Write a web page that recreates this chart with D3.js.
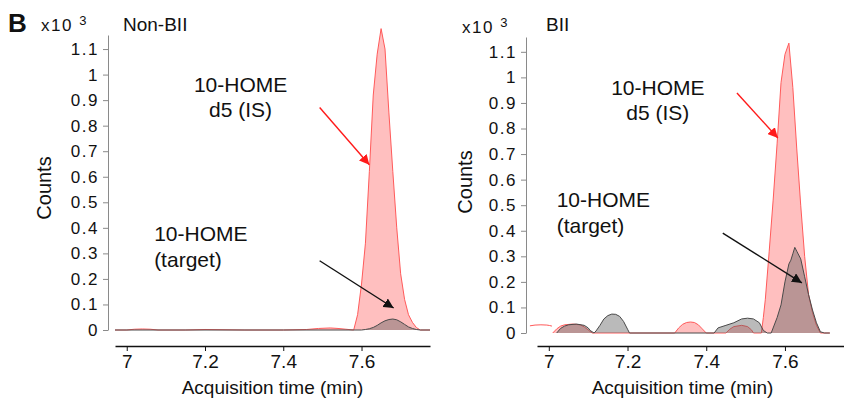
<!DOCTYPE html>
<html>
<head>
<meta charset="utf-8">
<script src="https://cdn.jsdelivr.net/npm/d3@7"></script>
<style>
  body { margin: 0; background: #fff; }
  text { font-family: "Liberation Sans", Arial, sans-serif; fill: #111; }
</style>
</head>
<body>
<script>
// tick labels shared by both panels
const yTicks = [0, 0.1, 0.2, 0.3, 0.4, 0.5, 0.6, 0.7, 0.8, 0.9, 1, 1.1];
const xTicks = [7, 7.2, 7.4, 7.6];

// Non-BII, counts x10^3
const nonBiiIsTime = [6.97, 7.0, 7.02, 7.04, 7.06, 7.08, 7.15, 7.2, 7.3, 7.4, 7.46, 7.49, 7.52, 7.54, 7.56, 7.58, 7.59, 7.6, 7.61, 7.62, 7.63, 7.64, 7.65, 7.66, 7.67, 7.68, 7.69, 7.7, 7.71, 7.72, 7.73, 7.74, 7.75, 7.775];
const nonBiiIsCounts = [0, 0, 0.003, 0.004, 0.003, 0, 0, 0.002, 0, 0, 0.002, 0.006, 0.008, 0.006, 0.003, 0, 0.06, 0.18, 0.34, 0.62, 0.92, 1.08, 1.18, 1.1, 0.85, 0.62, 0.4, 0.22, 0.12, 0.06, 0.03, 0.01, 0, 0];
const nonBiiTargetTime = [6.97, 7.2, 7.4, 7.6, 7.61, 7.62, 7.63, 7.64, 7.65, 7.66, 7.67, 7.68, 7.69, 7.7, 7.71, 7.72, 7.73, 7.74, 7.75, 7.775];
const nonBiiTargetCounts = [0, 0, 0, 0, 0.002, 0.005, 0.01, 0.018, 0.028, 0.036, 0.041, 0.043, 0.04, 0.032, 0.022, 0.012, 0.006, 0.002, 0, 0];

// BII, counts x10^3
const biiIsTime = [7.01, 7.02, 7.03, 7.04, 7.06, 7.08, 7.09, 7.1, 7.11, 7.32, 7.33, 7.34, 7.35, 7.36, 7.37, 7.38, 7.39, 7.4, 7.45, 7.46, 7.47, 7.49, 7.505, 7.515, 7.52, 7.54, 7.545, 7.55, 7.56, 7.57, 7.58, 7.59, 7.6, 7.61, 7.62, 7.63, 7.64, 7.65, 7.66, 7.67, 7.68, 7.69, 7.714];
const biiIsCounts = [0, 0.016, 0.027, 0.032, 0.035, 0.032, 0.024, 0.012, 0, 0, 0.02, 0.034, 0.041, 0.043, 0.041, 0.032, 0.016, 0, 0, 0.015, 0.025, 0.03, 0.025, 0.012, 0, 0, 0.06, 0.13, 0.32, 0.52, 0.74, 0.98, 1.09, 1.134, 0.96, 0.72, 0.5, 0.3, 0.15, 0.08, 0.03, 0, 0];
const biiIsStubTime = [6.952, 6.965, 6.98, 6.995, 7.008];
const biiIsStubCounts = [0.028, 0.031, 0.032, 0.031, 0.027];
const biiTargetTime = [7.02, 7.03, 7.04, 7.05, 7.07, 7.09, 7.1, 7.105, 7.115, 7.12, 7.13, 7.14, 7.15, 7.16, 7.17, 7.18, 7.19, 7.2, 7.205, 7.42, 7.43, 7.45, 7.47, 7.49, 7.505, 7.52, 7.535, 7.545, 7.555, 7.565, 7.58, 7.59, 7.6, 7.61, 7.615, 7.62, 7.625, 7.63, 7.64, 7.65, 7.66, 7.67, 7.68, 7.69, 7.7, 7.714];
const biiTargetCounts = [0, 0.018, 0.027, 0.032, 0.035, 0.03, 0.02, 0.01, 0, 0.008, 0.03, 0.055, 0.068, 0.074, 0.073, 0.065, 0.045, 0.015, 0, 0, 0.02, 0.03, 0.04, 0.055, 0.058, 0.055, 0.04, 0.01, 0, 0, 0.06, 0.11, 0.2, 0.27, 0.285, 0.31, 0.335, 0.32, 0.29, 0.22, 0.15, 0.09, 0.04, 0.005, 0, 0];

const svg = d3.select("body").append("svg")
  .attr("width", 844)
  .attr("height", 399);

svg.append("text")
  .attr("x", 8).attr("y", 32)
  .style("font-size", "26px").style("font-weight", "bold")
  .text("B");

function zip(ts, vs) {
  return ts.map((t, i) => ({ t: t, v: vs[i] }));
}

function drawPanel(p) {
  const x = d3.scaleLinear().domain(p.xDomain).range(p.xRange);
  const y = d3.scaleLinear().domain(p.yDomain).range(p.yRange);
  const g = svg.append("g");

  const area = d3.area()
    .x(d => x(d.t)).y0(y(0)).y1(d => y(d.v));
  const line = d3.line()
    .x(d => x(d.t)).y(d => y(d.v));

  // internal standard (red)
  const isData = zip(p.isTime, p.isCounts);
  g.append("path").datum(isData)
    .attr("d", area)
    .attr("fill", "rgba(255,0,0,0.25)");
  g.append("path").datum(isData)
    .attr("d", line)
    .attr("fill", "none").attr("stroke", "#ff5a5a").attr("stroke-width", 1);
  if (p.stubTime) {
    g.append("path").datum(zip(p.stubTime, p.stubCounts))
      .attr("d", line.curve(d3.curveMonotoneX))
      .attr("fill", "none").attr("stroke", "#ff5a5a").attr("stroke-width", 1);
    line.curve(d3.curveLinear);
  }

  // target (grey)
  const tgData = zip(p.tgTime, p.tgCounts);
  g.append("path").datum(tgData)
    .attr("d", area)
    .attr("fill", "rgba(90,90,90,0.42)");
  g.append("path").datum(tgData)
    .attr("d", line)
    .attr("fill", "none").attr("stroke", "#4a4a4a").attr("stroke-width", 1);

  // y axis
  const yAxis = g.append("g")
    .attr("transform", `translate(${p.yAxisX},0)`)
    .call(d3.axisLeft(y).tickValues(yTicks).tickSize(5).tickSizeOuter(0).tickPadding(4).tickFormat(d => String(d)));
  yAxis.select(".domain").attr("stroke", "#8a8a8a");
  yAxis.selectAll(".tick line").attr("stroke", "#8a8a8a");
  yAxis.selectAll(".tick text")
    .style("font-size", "17px").style("letter-spacing", "1.5px")
    .style("font-family", "Liberation Sans, Arial, sans-serif").attr("fill", "#111");

  // x axis
  const xAxis = g.append("g")
    .attr("transform", `translate(0,${p.xAxisY})`)
    .call(d3.axisBottom(x).tickValues(xTicks).tickSize(5).tickSizeOuter(0).tickPadding(4).tickFormat(d => String(d)));
  xAxis.select(".domain").attr("stroke", "#111").attr("stroke-width", 1.5);
  xAxis.selectAll(".tick line").attr("stroke", "#111");
  xAxis.selectAll(".tick text")
    .style("font-size", "19px")
    .style("font-family", "Liberation Sans, Arial, sans-serif").attr("fill", "#111");

  g.append("text")
    .attr("x", (p.xRange[0] + p.xRange[1]) / 2 + p.titleShift).attr("y", 394)
    .attr("text-anchor", "middle").style("font-size", "19px")
    .text("Acquisition time (min)");

  g.append("text")
    .attr("transform", `translate(${p.countsX},${p.countsY}) rotate(-90)`)
    .attr("text-anchor", "middle").style("font-size", "20px")
    .text("Counts");

  const mult = g.append("text")
    .attr("x", p.multX).attr("y", p.multY)
    .style("font-size", "17px").style("letter-spacing", "1.5px");
  mult.append("tspan").text("x10 ");
  mult.append("tspan").attr("dy", -6).style("font-size", "13px").text("3");

  g.append("text")
    .attr("x", p.nameX).attr("y", 31)
    .style("font-size", "19px")
    .text(p.name);

  // annotations, in data units
  const a = p.ann;
  g.append("text").attr("x", x(a.isLabel[0])).attr("y", y(a.isLabel[1]))
    .attr("text-anchor", "middle").style("font-size", "21px")
    .selectAll("tspan").data(["10-HOME", "d5 (IS)"]).join("tspan")
    .attr("x", x(a.isLabel[0])).attr("dy", (d, i) => i ? 25 : 0).text(d => d);
  g.append("text").attr("x", x(a.tgLabel[0])).attr("y", y(a.tgLabel[1]))
    .style("font-size", "21px")
    .selectAll("tspan").data(["10-HOME", "(target)"]).join("tspan")
    .attr("x", x(a.tgLabel[0])).attr("dy", (d, i) => i ? 26 : 0).text(d => d);

  g.append("line")
    .attr("x1", x(a.isArrow[0])).attr("y1", y(a.isArrow[1]))
    .attr("x2", x(a.isArrow[2])).attr("y2", y(a.isArrow[3]))
    .attr("stroke", "#ff1a1a").attr("stroke-width", 1.4)
    .attr("marker-end", "url(#headRed)");
  g.append("line")
    .attr("x1", x(a.tgArrow[0])).attr("y1", y(a.tgArrow[1]))
    .attr("x2", x(a.tgArrow[2])).attr("y2", y(a.tgArrow[3]))
    .attr("stroke", "#111").attr("stroke-width", 1.4)
    .attr("marker-end", "url(#headBlack)");
}

const defs = svg.append("defs");
[["headRed", "#ff1a1a"], ["headBlack", "#111"]].forEach(([id, c]) => {
  defs.append("marker")
    .attr("id", id)
    .attr("viewBox", "0 0 10 10")
    .attr("refX", 10).attr("refY", 5)
    .attr("markerWidth", 10).attr("markerHeight", 10)
    .attr("markerUnits", "userSpaceOnUse")
    .attr("orient", "auto")
    .append("path").attr("d", "M0,0L10,5L0,10Z").attr("fill", c);
});

drawPanel({
  name: "Non-BII",
  xDomain: [6.97, 7.775], xRange: [115, 430],
  yDomain: [0, 1.155], yRange: [330, 35],
  yAxisX: 108, xAxisY: 346, titleShift: 0,
  countsX: 51, countsY: 188,
  multX: 41, multY: 31, nameX: 123,
  isTime: nonBiiIsTime, isCounts: nonBiiIsCounts,
  tgTime: nonBiiTargetTime, tgCounts: nonBiiTargetCounts,
  ann: {
    isLabel: [7.291, 0.933], tgLabel: [7.07, 0.35],
    isArrow: [7.493, 0.871, 7.62, 0.647],
    tgArrow: [7.493, 0.271, 7.682, 0.086]
  }
});

drawPanel({
  name: "BII",
  xDomain: [6.97, 7.75], xRange: [537, 844],
  yDomain: [0, 1.158], yRange: [333, 37],
  yAxisX: 526, xAxisY: 346, titleShift: -8,
  countsX: 472, countsY: 182,
  multX: 462, multY: 33, nameX: 546,
  isTime: biiIsTime, isCounts: biiIsCounts,
  stubTime: biiIsStubTime, stubCounts: biiIsStubCounts,
  tgTime: biiTargetTime, tgCounts: biiTargetCounts,
  ann: {
    isLabel: [7.277, 0.931], tgLabel: [7.02, 0.493],
    isArrow: [7.478, 0.939, 7.582, 0.763],
    tgArrow: [7.442, 0.391, 7.643, 0.196]
  }
});
</script>
</body>
</html>
